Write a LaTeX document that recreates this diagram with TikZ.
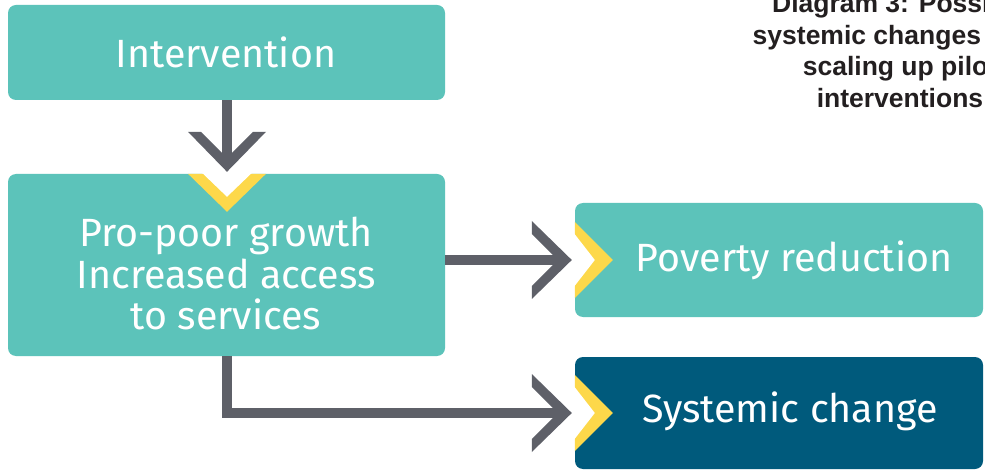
\documentclass[tikz,border=0pt]{standalone}
\usepackage{fontspec}
\setmainfont{Fira Sans}
\newfontfamily\titlefont{Liberation Sans}
\usetikzlibrary{calc}
\definecolor{teal}{HTML}{5CC3BA}
\definecolor{navy}{HTML}{005A7C}
\definecolor{gold}{HTML}{FDD84A}
\definecolor{arrowgray}{HTML}{5E6068}
\definecolor{titlegray}{HTML}{231F20}
\tikzset{
  box/.style={rectangle, rounded corners=8pt, draw=none, inner sep=0pt},
  boxtext/.style={text=white, inner sep=0pt, font=\fontsize{39.4}{41.5}\selectfont, align=center},
  shaft/.style={draw=arrowgray, line width=10pt, line join=miter},
  chevR/.pic={\fill[arrowgray] (0,0) -- (-40,-39) -- (-40,-26) -- (-14,0) -- (-40,26) -- (-40,39) -- cycle;},
  chevD/.pic={\fill[arrowgray] (0,0) -- (-39,-40) -- (-26,-40) -- (0,-14) -- (26,-40) -- (39,-40) -- cycle;},
  notchT/.pic={\fill[gold] (-39,0) -- (0,38) -- (39,0) -- cycle;
               \fill[white] (-25,-1) -- (0,23) -- (25,-1) -- cycle;},
  notchL/.pic={\fill[gold] (0,-38) -- (38,0) -- (0,38) -- cycle;
               \fill[white] (-1,-27) -- (20,0) -- (-1,27) -- cycle;}
}
\begin{document}
\begin{tikzpicture}[x=1pt,y=-1pt]
\useasboundingbox (0,0) rectangle (985,470);
\fill[white] (0,0) rectangle (985,470);
\begin{scope}
\clip (0,0) rectangle (985,470);
% title (cut off at the right edge, as in the reference)
\node[anchor=base, align=center, inner sep=0pt, text=titlegray,
      font=\titlefont\bfseries\fontsize{26.5}{31.5}\selectfont] (title) at (900,107.5)
  {Diagram 3: Possible\\systemic changes from\\scaling up pilot\\interventions};
% boxes
\node[box, fill=teal, minimum width=437pt, minimum height=95pt] (int) at (226.5,52.5) {};
\node[box, fill=teal, minimum width=437pt, minimum height=182pt] (mid) at (226.5,265) {};
\node[box, fill=teal, minimum width=408pt, minimum height=114pt] (pov) at (779,260) {};
\node[box, fill=navy, minimum width=408pt, minimum height=112pt] (sys) at (779,413) {};
% notches
\pic at ($(mid.north)+(0.5,0)$) {notchT};
\pic at (pov.west) {notchL};
\pic at (sys.west) {notchL};
% texts
\node[boxtext, anchor=base] (intT) at (226,68) {Intervention};
\node[boxtext, anchor=base] (midT) at (226,330) {Pro-poor growth\\Increased access\\to services};
\node[boxtext, anchor=base] (povT) at (794,272) {Poverty reduction};
\node[boxtext, anchor=base] (sysT) at (790,422) {Systemic change};
% connector tips
\coordinate (t1) at ($(mid.north)+(0.5,-2)$);
\coordinate (t2) at ($(pov.west)+(-3,0)$);
\coordinate (t3) at ($(sys.west)+(-3,0)$);
% connectors
\draw[shaft] (int.south -| t1) -- ($(t1)+(0,-10)$);
\pic at (t1) {chevD};
\draw[shaft] (mid.east |- t2) -- ($(t2)+(-10,0)$);
\pic at (t2) {chevR};
\draw[shaft] (mid.south -| t1) -- (t1 |- t3) -- ($(t3)+(-10,0)$);
\pic at (t3) {chevR};
\end{scope}
\end{tikzpicture}
\end{document}
